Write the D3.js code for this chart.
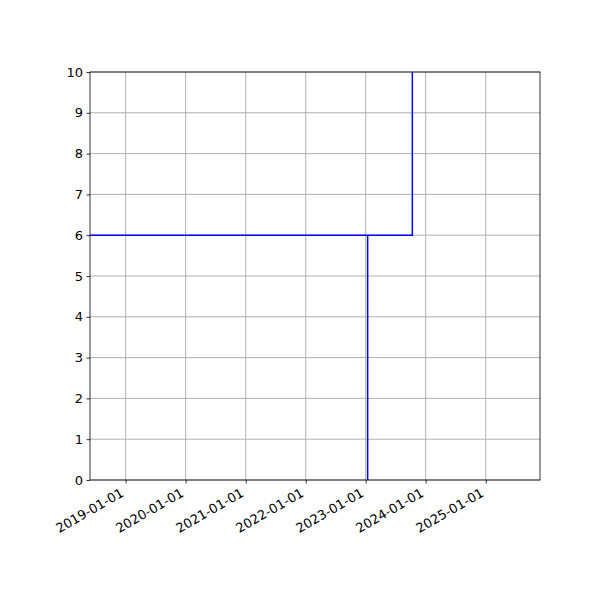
<!DOCTYPE html>
<html><head><meta charset="utf-8">
<script src="https://cdn.jsdelivr.net/npm/d3@7"></script>
<style>body{margin:0;background:#fff}svg{display:block}text{font-family:"DejaVu Sans",sans-serif}</style>
</head><body>
<script>
const xDomain = ["2018-05-29", "2025-11-27"];
const yDomain = [0, 10];
const xTicks = ["2019-01-01","2020-01-01","2021-01-01","2022-01-01","2023-01-01","2024-01-01","2025-01-01"];
const yTicks = [0,1,2,3,4,5,6,7,8,9,10];
const lineDates = ["2023-01-13","2023-01-13","2018-01-01","2023-10-12","2023-10-12"];
const lineValues = [-1, 6, 6, 6, 12];

const parse = d3.utcParse("%Y-%m-%d");
const W = 600, H = 600, L = 90, R = 540, T = 72, B = 480;
const svg = d3.select("body").append("svg").attr("width", W).attr("height", H);
const x = d3.scaleUtc().domain(xDomain.map(parse)).range([L, R]);
const y = d3.scaleLinear().domain(yDomain).range([B, T]);

// grid
const g = svg.append("g");
g.selectAll(".gx").data(xTicks).join("line")
  .attr("x1", d => x(parse(d))).attr("x2", d => x(parse(d)))
  .attr("y1", T).attr("y2", B).attr("stroke", "#b0b0b0").attr("stroke-width", 1);
g.selectAll(".gy").data(yTicks).join("line")
  .attr("y1", d => y(d)).attr("y2", d => y(d))
  .attr("x1", L).attr("x2", R).attr("stroke", "#b0b0b0").attr("stroke-width", 1);

svg.append("clipPath").attr("id", "clip").append("rect")
  .attr("x", L).attr("y", T).attr("width", R - L).attr("height", B - T);

const pts = lineDates.map((d, i) => [parse(d), lineValues[i]]);
svg.append("path").attr("clip-path", "url(#clip)")
  .attr("d", d3.line().x(d => x(d[0])).y(d => y(d[1]))(pts))
  .attr("fill", "none").attr("stroke", "blue").attr("stroke-width", 1.5);

// axes
const xa = svg.append("g").attr("transform", `translate(0,${B})`)
  .call(d3.axisBottom(x).tickValues(xTicks.map(parse)).tickFormat(d3.utcFormat("%Y-%m-%d")).tickSize(3.5).tickPadding(3.5));
xa.selectAll("text").attr("font-size", 13).attr("fill", "#000")
  .attr("text-anchor", "end").attr("dy", null).attr("y", 0).attr("x", 0)
  .attr("transform", "translate(-1.5,15.5) rotate(-30)");
const ya = svg.append("g").attr("transform", `translate(${L},0)`)
  .call(d3.axisLeft(y).tickValues(yTicks).tickSize(3.5).tickPadding(3.5));
ya.selectAll("text").attr("font-size", 13).attr("fill", "#000");
[xa, ya].forEach(a => { a.select(".domain").remove(); a.selectAll("line").attr("stroke", "#000").attr("stroke-width", 0.8); });

svg.append("rect").attr("x", L).attr("y", T).attr("width", R - L).attr("height", B - T)
  .attr("fill", "none").attr("stroke", "#000").attr("stroke-width", 0.8);
</script>
</body></html>
